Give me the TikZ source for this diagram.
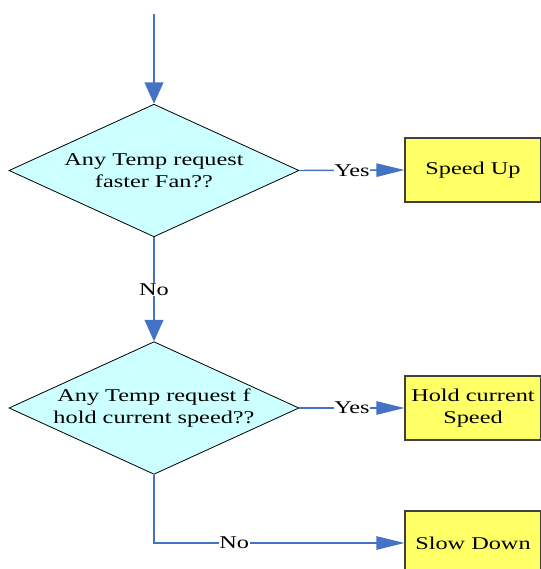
\documentclass[tikz,border=0pt]{standalone}
\usepackage{fontspec}
\setmainfont[FakeStretch=1.35]{Liberation Serif}
\usetikzlibrary{shapes.geometric,arrows.meta}
\definecolor{flowblue}{RGB}{68,114,196}
\definecolor{decfill}{RGB}{204,255,255}
\definecolor{actfill}{RGB}{255,255,102}
\begin{document}
\begin{tikzpicture}[x=0.75pt, y=-0.75pt,
    font=\fontsize{13.5}{16.5}\selectfont,
    decision/.style={diamond, draw=black, line width=0.6pt, fill=decfill,
        aspect=2.18, minimum width=217.5pt, minimum height=99.5pt,
        inner sep=-5pt, align=center},
    action/.style={rectangle, draw=black!75, line width=0.8pt, fill=actfill,
        minimum width=102pt, minimum height=48pt, inner sep=0pt, align=center},
    vflow/.style={draw=flowblue, line width=1.3pt, -{Triangle[length=16pt, width=14pt]}},
    hflow/.style={draw=flowblue, line width=1.1pt, -{Triangle[length=21pt, width=10pt]}},
    lbl/.style={fill=white, inner sep=0.5pt, text=black}]
    \useasboundingbox (0,0) rectangle (541,569);

    % Entscheidungen
    \node[decision] (faster) at (154,170.5) {Any Temp request\\faster Fan??};
    \node[decision] (hold) at (154,408) {Any Temp request f\\hold current speed??};

    % Aktionen
    \node[action] (speedup) at (473,170) {Speed Up};
    \node[action] (holdspeed) at (473,408) {Hold current\\Speed};
    \node[action] (slowdown) at (473,543) {Slow Down};

    \coordinate (start) at (154,14);

    % Verbindungen
    \draw[vflow] (start) -- (faster.north);
    \draw[hflow] (faster.east) -- node[lbl] {Yes} (speedup.west);
    \draw[vflow] (faster.south) -- node[lbl] {No} (hold.north);
    \draw[hflow] (hold.east) -- node[lbl] {Yes} (holdspeed.west);
    \draw[hflow] (hold.south) |- node[lbl, pos=0.66] {No} (slowdown.west);
\end{tikzpicture}
\end{document}
